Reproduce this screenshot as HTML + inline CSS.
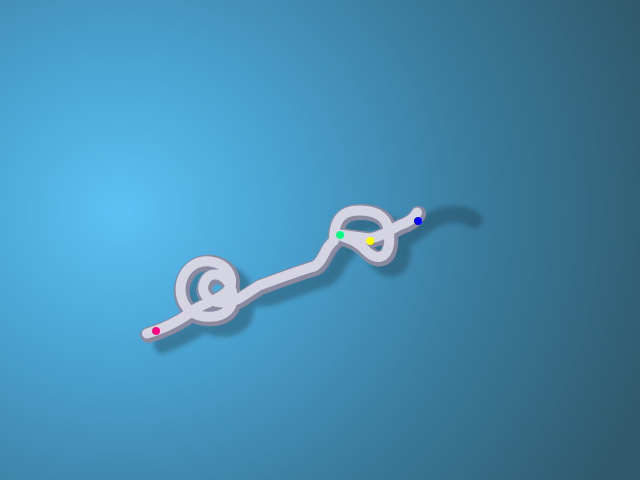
<!DOCTYPE html>
<html><head><meta charset="utf-8"><style>
html,body{margin:0;padding:0;}
body{width:640px;height:480px;overflow:hidden;background:radial-gradient(ellipse 560px 520px at 120px 210px,#5cc2f4 0%,#4aa2d0 30%,#3a7a9c 65%,#2f5a6c 100%);}
svg{position:absolute;left:0;top:0;}
</style></head><body>
<svg width="640" height="480" viewBox="0 0 640 480">
<defs>
<filter id="blur"><feGaussianBlur stdDeviation="2.5"/></filter>
</defs>
<g filter="url(#blur)" opacity="0.4" transform="translate(12,10)" fill="none" stroke="#1f3e4e" stroke-width="17" stroke-linecap="round">
<path d="M150,335 C165,330 180,322 190,315 C200,305 230,300 232,285 C234,265 205,255 190,270 C175,285 180,315 205,318 C225,320 238,310 232,290 L260,287 C280,280 300,272 315,268 C325,262 325,250 335,242 C335,225 340,212 360,212 C385,212 392,225 390,245 C388,262 375,262 365,250 L370,240 C385,238 395,228 420,210 C440,200 455,205 462,210"/>
</g>
<g fill="none" stroke-linecap="round" stroke-linejoin="round">
<path d="M148,335 C165,330 180,322 190,315 C200,305 230,300 232,285 C234,265 205,255 190,270 C175,285 180,315 205,318 C225,320 238,310 232,290 C228,275 210,270 205,285 C200,300 220,310 240,300 L260,287 C280,280 300,272 315,268 C325,262 325,250 335,242 C335,225 340,212 360,212 C385,212 392,225 390,245 C388,262 375,262 365,250 C355,240 345,240 340,236 L370,240 C385,238 395,228 405,225 C412,222 416,218 418,214" stroke="#8a8aa0" stroke-width="16"/>
<path d="M148,335 C165,330 180,322 190,315 C200,305 230,300 232,285 C234,265 205,255 190,270 C175,285 180,315 205,318 C225,320 238,310 232,290 C228,275 210,270 205,285 C200,300 220,310 240,300 L260,287 C280,280 300,272 315,268 C325,262 325,250 335,242 C335,225 340,212 360,212 C385,212 392,225 390,245 C388,262 375,262 365,250 C355,240 345,240 340,236 L370,240 C385,238 395,228 405,225 C412,222 416,218 418,214" stroke="#d4d4e2" stroke-width="10" transform="translate(-1,-1.5)"/>
</g>
<circle cx="156" cy="331" r="4" fill="#ff0080"/>
<circle cx="340" cy="235" r="4" fill="#00ff80"/>
<circle cx="370" cy="241" r="4" fill="#ffff00"/>
<circle cx="418" cy="221" r="4" fill="#0000ff"/>
</svg>
</body></html>
